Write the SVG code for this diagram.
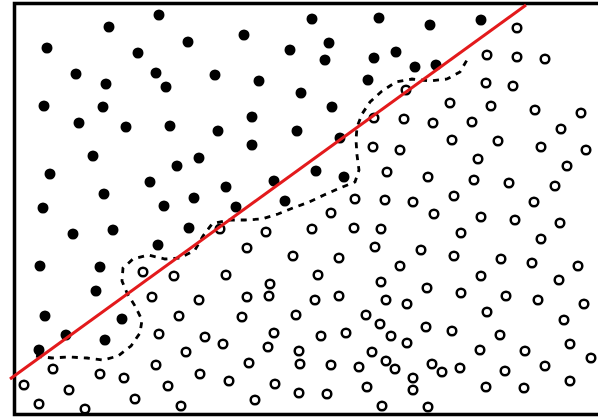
<svg xmlns="http://www.w3.org/2000/svg" width="598" height="418" viewBox="0 0 598 418">
<style>
.f{fill:#000}
.o{fill:none;stroke:#000;stroke-width:2.5}
.frame{stroke:#000;stroke-width:3.5;fill:none}
.sep{stroke:#e31a1c;stroke-width:3;fill:none}
.bnd{stroke:#000;stroke-width:2.8;fill:none;stroke-dasharray:6 6}
</style>
<rect width="598" height="418" fill="#fff"/>
<g id="frame">
<polyline class="frame" points="598,3.5 14.5,3.5 14.5,414.5 598,414.5"/>
</g>
<g id="filled">
<circle class="f" r="5.5" cx="109" cy="27"/><circle class="f" r="5.5" cx="159" cy="15"/><circle class="f" r="5.5" cx="47" cy="48"/><circle class="f" r="5.5" cx="138" cy="53"/><circle class="f" r="5.5" cx="188" cy="42"/><circle class="f" r="5.5" cx="244" cy="35"/><circle class="f" r="5.5" cx="290" cy="50"/><circle class="f" r="5.5" cx="312" cy="19"/><circle class="f" r="5.5" cx="379" cy="18"/><circle class="f" r="5.5" cx="430" cy="25"/><circle class="f" r="5.5" cx="481" cy="20"/>
<circle class="f" r="5.5" cx="76" cy="74"/><circle class="f" r="5.5" cx="106" cy="84"/><circle class="f" r="5.5" cx="156" cy="73"/><circle class="f" r="5.5" cx="215" cy="75"/><circle class="f" r="5.5" cx="166" cy="87"/><circle class="f" r="5.5" cx="259" cy="81"/><circle class="f" r="5.5" cx="44" cy="106"/><circle class="f" r="5.5" cx="103" cy="107"/><circle class="f" r="5.5" cx="79" cy="123"/><circle class="f" r="5.5" cx="126" cy="127"/><circle class="f" r="5.5" cx="170" cy="126"/><circle class="f" r="5.5" cx="218" cy="131"/><circle class="f" r="5.5" cx="252" cy="117"/><circle class="f" r="5.5" cx="297" cy="131"/><circle class="f" r="5.5" cx="301" cy="93"/><circle class="f" r="5.5" cx="329" cy="43"/><circle class="f" r="5.5" cx="325" cy="60"/><circle class="f" r="5.5" cx="374" cy="58"/><circle class="f" r="5.5" cx="396" cy="52"/><circle class="f" r="5.5" cx="415" cy="67"/><circle class="f" r="5.5" cx="436" cy="65"/><circle class="f" r="5.5" cx="368" cy="80"/><circle class="f" r="5.5" cx="332" cy="107"/><circle class="f" r="5.5" cx="340" cy="138"/>
<circle class="f" r="5.5" cx="252" cy="145"/><circle class="f" r="5.5" cx="199" cy="158"/><circle class="f" r="5.5" cx="177" cy="166"/><circle class="f" r="5.5" cx="150" cy="182"/><circle class="f" r="5.5" cx="226" cy="187"/><circle class="f" r="5.5" cx="274" cy="181"/><circle class="f" r="5.5" cx="194" cy="198"/><circle class="f" r="5.5" cx="164" cy="206"/><circle class="f" r="5.5" cx="236" cy="207"/><circle class="f" r="5.5" cx="285" cy="201"/><circle class="f" r="5.5" cx="189" cy="228"/><circle class="f" r="5.5" cx="158" cy="245"/><circle class="f" r="5.5" cx="316" cy="171"/><circle class="f" r="5.5" cx="344" cy="177"/>
<circle class="f" r="5.5" cx="93" cy="156"/><circle class="f" r="5.5" cx="50" cy="174"/><circle class="f" r="5.5" cx="104" cy="194"/><circle class="f" r="5.5" cx="43" cy="208"/><circle class="f" r="5.5" cx="113" cy="230"/><circle class="f" r="5.5" cx="73" cy="234"/><circle class="f" r="5.5" cx="40" cy="266"/><circle class="f" r="5.5" cx="100" cy="267"/>
<circle class="f" r="5.5" cx="96" cy="291"/><circle class="f" r="5.5" cx="45" cy="316"/><circle class="f" r="5.5" cx="122" cy="319"/><circle class="f" r="5.5" cx="66" cy="335"/><circle class="f" r="5.5" cx="105" cy="340"/><circle class="f" r="5.5" cx="39" cy="350"/>
</g>
<g id="open">
<circle class="o" r="4.3" cx="406" cy="90"/><circle class="o" r="4.3" cx="450" cy="103"/><circle class="o" r="4.3" cx="374" cy="118"/><circle class="o" r="4.3" cx="404" cy="119"/><circle class="o" r="4.3" cx="433" cy="123"/>
<circle class="o" r="4.3" cx="517" cy="28"/><circle class="o" r="4.3" cx="487" cy="55"/><circle class="o" r="4.3" cx="517" cy="57"/><circle class="o" r="4.3" cx="545" cy="59"/><circle class="o" r="4.3" cx="486" cy="83"/><circle class="o" r="4.3" cx="513" cy="86"/><circle class="o" r="4.3" cx="491" cy="106"/><circle class="o" r="4.3" cx="535" cy="110"/><circle class="o" r="4.3" cx="581" cy="113"/><circle class="o" r="4.3" cx="472" cy="122"/><circle class="o" r="4.3" cx="561" cy="129"/><circle class="o" r="4.3" cx="498" cy="141"/>
<circle class="o" r="4.3" cx="143" cy="272"/><circle class="o" r="4.3" cx="220" cy="229"/><circle class="o" r="4.3" cx="266" cy="232"/><circle class="o" r="4.3" cx="247" cy="248"/><circle class="o" r="4.3" cx="293" cy="256"/><circle class="o" r="4.3" cx="174" cy="276"/><circle class="o" r="4.3" cx="226" cy="275"/>
<circle class="o" r="4.3" cx="373" cy="147"/><circle class="o" r="4.3" cx="400" cy="150"/><circle class="o" r="4.3" cx="452" cy="140"/><circle class="o" r="4.3" cx="387" cy="172"/><circle class="o" r="4.3" cx="428" cy="177"/><circle class="o" r="4.3" cx="355" cy="199"/><circle class="o" r="4.3" cx="385" cy="200"/><circle class="o" r="4.3" cx="413" cy="202"/><circle class="o" r="4.3" cx="331" cy="213"/><circle class="o" r="4.3" cx="434" cy="214"/><circle class="o" r="4.3" cx="454" cy="196"/><circle class="o" r="4.3" cx="312" cy="229"/><circle class="o" r="4.3" cx="354" cy="228"/><circle class="o" r="4.3" cx="381" cy="229"/><circle class="o" r="4.3" cx="375" cy="247"/><circle class="o" r="4.3" cx="421" cy="250"/><circle class="o" r="4.3" cx="339" cy="258"/><circle class="o" r="4.3" cx="400" cy="266"/><circle class="o" r="4.3" cx="318" cy="275"/><circle class="o" r="4.3" cx="454" cy="256"/>
<circle class="o" r="4.3" cx="541" cy="147"/><circle class="o" r="4.3" cx="586" cy="150"/><circle class="o" r="4.3" cx="478" cy="159"/><circle class="o" r="4.3" cx="567" cy="166"/><circle class="o" r="4.3" cx="474" cy="180"/><circle class="o" r="4.3" cx="509" cy="183"/><circle class="o" r="4.3" cx="555" cy="186"/><circle class="o" r="4.3" cx="534" cy="202"/><circle class="o" r="4.3" cx="481" cy="217"/><circle class="o" r="4.3" cx="515" cy="220"/><circle class="o" r="4.3" cx="560" cy="223"/><circle class="o" r="4.3" cx="461" cy="233"/><circle class="o" r="4.3" cx="541" cy="239"/><circle class="o" r="4.3" cx="501" cy="259"/><circle class="o" r="4.3" cx="532" cy="263"/><circle class="o" r="4.3" cx="578" cy="266"/><circle class="o" r="4.3" cx="481" cy="276"/><circle class="o" r="4.3" cx="559" cy="280"/>
<circle class="o" r="4.3" cx="53" cy="369"/><circle class="o" r="4.3" cx="24" cy="385"/><circle class="o" r="4.3" cx="100" cy="374"/><circle class="o" r="4.3" cx="124" cy="378"/><circle class="o" r="4.3" cx="69" cy="390"/><circle class="o" r="4.3" cx="135" cy="399"/><circle class="o" r="4.3" cx="39" cy="404"/><circle class="o" r="4.3" cx="85" cy="409"/><circle class="o" r="4.3" cx="152" cy="297"/>
<circle class="o" r="4.3" cx="270" cy="284"/><circle class="o" r="4.3" cx="199" cy="300"/><circle class="o" r="4.3" cx="247" cy="297"/><circle class="o" r="4.3" cx="269" cy="296"/><circle class="o" r="4.3" cx="179" cy="316"/><circle class="o" r="4.3" cx="242" cy="317"/><circle class="o" r="4.3" cx="296" cy="315"/><circle class="o" r="4.3" cx="159" cy="334"/><circle class="o" r="4.3" cx="205" cy="337"/><circle class="o" r="4.3" cx="223" cy="344"/><circle class="o" r="4.3" cx="274" cy="333"/><circle class="o" r="4.3" cx="268" cy="347"/><circle class="o" r="4.3" cx="186" cy="352"/><circle class="o" r="4.3" cx="299" cy="351"/><circle class="o" r="4.3" cx="156" cy="365"/><circle class="o" r="4.3" cx="249" cy="363"/><circle class="o" r="4.3" cx="300" cy="364"/><circle class="o" r="4.3" cx="200" cy="374"/><circle class="o" r="4.3" cx="168" cy="386"/><circle class="o" r="4.3" cx="229" cy="381"/><circle class="o" r="4.3" cx="275" cy="384"/><circle class="o" r="4.3" cx="299" cy="393"/><circle class="o" r="4.3" cx="255" cy="400"/><circle class="o" r="4.3" cx="181" cy="406"/>
<circle class="o" r="4.3" cx="381" cy="282"/><circle class="o" r="4.3" cx="427" cy="288"/><circle class="o" r="4.3" cx="315" cy="300"/><circle class="o" r="4.3" cx="339" cy="296"/><circle class="o" r="4.3" cx="386" cy="300"/><circle class="o" r="4.3" cx="407" cy="304"/><circle class="o" r="4.3" cx="366" cy="315"/><circle class="o" r="4.3" cx="380" cy="324"/><circle class="o" r="4.3" cx="426" cy="327"/><circle class="o" r="4.3" cx="452" cy="331"/><circle class="o" r="4.3" cx="321" cy="336"/><circle class="o" r="4.3" cx="346" cy="333"/><circle class="o" r="4.3" cx="391" cy="336"/><circle class="o" r="4.3" cx="407" cy="343"/><circle class="o" r="4.3" cx="372" cy="352"/><circle class="o" r="4.3" cx="331" cy="365"/><circle class="o" r="4.3" cx="359" cy="367"/><circle class="o" r="4.3" cx="386" cy="361"/><circle class="o" r="4.3" cx="395" cy="369"/><circle class="o" r="4.3" cx="432" cy="364"/><circle class="o" r="4.3" cx="442" cy="372"/><circle class="o" r="4.3" cx="413" cy="378"/><circle class="o" r="4.3" cx="413" cy="390"/><circle class="o" r="4.3" cx="367" cy="387"/><circle class="o" r="4.3" cx="327" cy="394"/><circle class="o" r="4.3" cx="382" cy="406"/><circle class="o" r="4.3" cx="428" cy="407"/>
<circle class="o" r="4.3" cx="461" cy="293"/><circle class="o" r="4.3" cx="506" cy="296"/><circle class="o" r="4.3" cx="538" cy="300"/><circle class="o" r="4.3" cx="584" cy="304"/><circle class="o" r="4.3" cx="487" cy="312"/><circle class="o" r="4.3" cx="564" cy="320"/><circle class="o" r="4.3" cx="500" cy="335"/><circle class="o" r="4.3" cx="480" cy="350"/><circle class="o" r="4.3" cx="525" cy="351"/><circle class="o" r="4.3" cx="570" cy="344"/><circle class="o" r="4.3" cx="591" cy="358"/><circle class="o" r="4.3" cx="460" cy="368"/><circle class="o" r="4.3" cx="505" cy="371"/><circle class="o" r="4.3" cx="545" cy="366"/><circle class="o" r="4.3" cx="486" cy="387"/><circle class="o" r="4.3" cx="524" cy="388"/><circle class="o" r="4.3" cx="570" cy="381"/>
</g>
<g id="connectors">
<path id="boundary" class="bnd" d="M36,356 L52,358 68,357 87,358 103,360 118,356 131,346 140,333 142,320 135,306 127,293 122,281 123,268 133,259 148,255 165,259 180,258 195,250 203,236 212,224 228,220 245,220 262,219 278,214 293,208 309,202 324,195 340,188 355,182 359,170 357,155 356,140 357,127 362,114 370,102 382,91 396,82 412,79 430,81 447,79 460,72 467,60"/>
<line id="separator" class="sep" x1="10" y1="379" x2="526" y2="5"/>
</g>
</svg>
